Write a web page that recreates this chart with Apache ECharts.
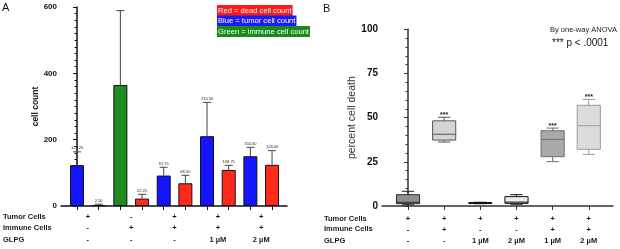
<!DOCTYPE html>
<html>
<head>
<meta charset="utf-8">
<script src="https://cdn.jsdelivr.net/npm/echarts@6/dist/echarts.min.js"></script>
<style>
  html, body { margin: 0; padding: 0; background: #fff; }
  #chart { width: 620px; height: 249px; }
</style>
</head>
<body>
<div id="chart"></div>
<script>
// ---- panel A: cell counts (mean + sd) ----
const barTypes = ['tumor', 'dead', 'immune', 'dead', 'tumor', 'dead', 'tumor', 'dead', 'tumor', 'dead'];
const barMeans = [123.25, 2.5, 365, 22.25, 91.75, 68.5, 210.5, 108.75, 150, 124];
const barSd = [40, 3, 224, 13, 25, 24, 102, 14, 27, 43];
const barLabels = ['123.25', '2.50', '', '22.25', '91.75', '68.50', '210.50', '108.75', '150.00', '124.00'];
const tumorA = ['+', '-', '+', '+', '+'];
const immuneA = ['-', '+', '+', '+', '+'];
const glpgA = ['-', '-', '-', '1 µM', '2 µM'];
const ticksA = [0, 200, 400, 600];

// ---- panel B: percent cell death (box plots) ----
const boxMin = [0.7, 36.2, 1.3, 1.0, 25.1, 29.2];
const boxQ1 = [1.3, 37.3, 1.5, 1.5, 27.9, 32.1];
const boxMed = [2.1, 40.6, 1.7, 2.2, 37.7, 45.4];
const boxQ3 = [6.4, 48.2, 1.9, 5.3, 42.6, 57.0];
const boxMax = [8.3, 50.2, 2.1, 6.4, 44.1, 60.3];
const boxSig = ['', '***', '', '', '***', '***'];
const tumorB = ['+', '+', '+', '+', '+', '+'];
const immuneB = ['-', '+', '-', '-', '+', '+'];
const glpgB = ['-', '-', '1 µM', '2 µM', '1 µM', '2 µM'];

const FONT = "'Liberation Sans', Arial, sans-serif";
const typeColors = { tumor: '#1414ff', dead: '#ff2a1a', immune: '#1e8c1e' };
const boxFills = ['#8f8f8f', '#d4d4d4', '#555555', '#ececec', '#a9a9a9', '#dcdcdc'];
const boxStrokes = ['#2a2a2a', '#555555', '#111111', '#111111', '#6e6e6e', '#9a9a9a'];

const chart = echarts.init(document.getElementById('chart'));

const tableLabel = (margin, lineHeight) => ({
  margin,
  lineHeight,
  fontSize: 7.5,
  fontWeight: 'bold',
  fontFamily: FONT,
  color: '#1a1a1a',
});

const rowHeader = (x, y, text) => ({
  type: 'text',
  x,
  y,
  style: { text, fontSize: 7.5, fontWeight: 'bold', fontFamily: FONT, fill: '#1a1a1a', verticalAlign: 'middle' },
});

const legendBox = (y, text, color) => ({
  type: 'text',
  x: 217,
  y,
  style: {
    text, fontSize: 7.6, fontFamily: FONT, fill: '#fff',
    backgroundColor: color, padding: [1.5, 1, 1.5, 1],
  },
});

const option = {
  animation: false,
  textStyle: { fontFamily: FONT },
  grid: [
    { left: 61, top: 7, width: 226, height: 199 },
    { left: 382, top: 29.3, width: 231, height: 176.7 },
  ],
  xAxis: [
    {
      gridIndex: 0,
      type: 'value',
      min: -0.74,
      max: 9.69,
      splitLine: { show: false },
      axisLine: { lineStyle: { color: '#111', width: 1.5 } },
      axisTick: { customValues: barMeans.map((v, i) => i), length: 4, lineStyle: { color: '#111' } },
      axisLabel: {
        ...tableLabel(4.75, 11.5),
        customValues: tumorA.map((v, k) => k * 2 + 0.5),
        formatter: (v) => {
          const k = Math.round((v - 0.5) / 2);
          return [tumorA[k], immuneA[k], glpgA[k]].join('\n');
        },
      },
    },
    {
      gridIndex: 1,
      type: 'value',
      min: -0.72,
      max: 5.67,
      splitLine: { show: false },
      axisLine: { lineStyle: { color: '#333', width: 1.5 } },
      axisTick: { customValues: boxMed.map((v, i) => i), length: 4, lineStyle: { color: '#333' } },
      axisLabel: {
        ...tableLabel(7.2, 11),
        customValues: boxMed.map((v, i) => i),
        formatter: (v) => {
          const k = Math.round(v);
          return [tumorB[k], immuneB[k], glpgB[k]].join('\n');
        },
      },
    },
  ],
  yAxis: [
    {
      gridIndex: 0,
      type: 'value',
      min: ticksA[0],
      max: ticksA[ticksA.length - 1],
      interval: 200,
      splitLine: { show: false },
      axisLine: { show: true, lineStyle: { color: '#111', width: 1.5 } },
      axisTick: { length: 4, lineStyle: { color: '#111' } },
      minorTick: { show: true, splitNumber: 10, length: 2.5, lineStyle: { color: '#111' } },
      axisLabel: { fontSize: 8, fontWeight: 'bold', color: '#111', margin: 4 },
      name: 'cell count',
      nameLocation: 'middle',
      nameGap: 19,
      nameTextStyle: { fontSize: 8.5, fontWeight: 'bold', color: '#111' },
    },
    {
      gridIndex: 1,
      type: 'value',
      min: 0,
      max: 100,
      interval: 25,
      splitLine: { show: false },
      axisLine: { show: true, lineStyle: { color: '#333', width: 1.5 } },
      axisTick: { length: 4, lineStyle: { color: '#333' } },
      minorTick: { show: true, splitNumber: 5, length: 2.5, lineStyle: { color: '#333' } },
      axisLabel: { fontSize: 10, fontWeight: 'bold', color: '#111', margin: 4 },
      name: 'percent cell death',
      nameLocation: 'middle',
      nameGap: 20,
      nameTextStyle: { fontSize: 10.5, color: '#333' },
    },
  ],
  series: [
    {
      type: 'bar',
      xAxisIndex: 0,
      yAxisIndex: 0,
      barWidth: 14,
      data: barMeans.map((v, i) => ({
        value: [i, v],
        itemStyle: { color: typeColors[barTypes[i]] },
      })),
      itemStyle: { borderColor: '#111', borderWidth: 1 },
    },
    {
      // error bars with value labels
      type: 'custom',
      xAxisIndex: 0,
      yAxisIndex: 0,
      z: 3,
      data: barMeans.map((v, i) => [i, v, v + barSd[i]]),
      renderItem: (params, api) => {
        const x = api.value(0);
        const lo = api.coord([x, api.value(1)]);
        const hi = api.coord([x, api.value(2)]);
        const label = barLabels[params.dataIndex];
        const stroke = { stroke: '#444', lineWidth: 1 };
        const children = [
          { type: 'line', shape: { x1: lo[0], y1: lo[1], x2: hi[0], y2: hi[1] }, style: stroke },
          { type: 'line', shape: { x1: hi[0] - 4, y1: hi[1], x2: hi[0] + 4, y2: hi[1] }, style: stroke },
        ];
        if (label) {
          children.push({
            type: 'text', x: hi[0], y: hi[1] - 1.5,
            style: { text: label, fontSize: 4, fontFamily: FONT, fill: '#222', align: 'center', verticalAlign: 'bottom' },
          });
        }
        return { type: 'group', children };
      },
    },
    {
      // box plots
      type: 'custom',
      xAxisIndex: 1,
      yAxisIndex: 1,
      data: boxMed.map((v, i) => [i, boxMin[i], boxQ1[i], v, boxQ3[i], boxMax[i]]),
      renderItem: (params, api) => {
        const i = params.dataIndex;
        const x = api.value(0);
        const half = api.size([0.64, 0])[0] / 2;
        const cap = api.size([0.34, 0])[0] / 2;
        const pMin = api.coord([x, api.value(1)]);
        const pQ1 = api.coord([x, api.value(2)]);
        const pMed = api.coord([x, api.value(3)]);
        const pQ3 = api.coord([x, api.value(4)]);
        const pMax = api.coord([x, api.value(5)]);
        const stroke = { stroke: boxStrokes[i], lineWidth: 1 };
        const cx = pMed[0];
        const children = [
          { type: 'line', shape: { x1: cx, y1: pQ3[1], x2: cx, y2: pMax[1] }, style: stroke },
          { type: 'line', shape: { x1: cx, y1: pQ1[1], x2: cx, y2: pMin[1] }, style: stroke },
          { type: 'line', shape: { x1: cx - cap, y1: pMax[1], x2: cx + cap, y2: pMax[1] }, style: stroke },
          { type: 'line', shape: { x1: cx - cap, y1: pMin[1], x2: cx + cap, y2: pMin[1] }, style: stroke },
          {
            type: 'rect',
            shape: { x: cx - half, y: pQ3[1], width: half * 2, height: pQ1[1] - pQ3[1] },
            style: { fill: boxFills[i], stroke: boxStrokes[i], lineWidth: 1 },
          },
          { type: 'line', shape: { x1: cx - half, y1: pMed[1], x2: cx + half, y2: pMed[1] }, style: stroke },
        ];
        if (boxSig[i]) {
          children.push({
            type: 'text', x: cx, y: pMax[1] + 1,
            style: { text: boxSig[i], fontSize: 7, fontWeight: 'bold', fontFamily: FONT, fill: '#222', align: 'center', verticalAlign: 'bottom' },
          });
        }
        return { type: 'group', children };
      },
    },
  ],
  graphic: [
    { type: 'text', x: 2, y: 2, style: { text: 'A', fontSize: 11, fontFamily: FONT, fill: '#111' } },
    { type: 'text', x: 323, y: 3, style: { text: 'B', fontSize: 11, fontFamily: FONT, fill: '#111' } },
    legendBox(5, 'Red = dead cell count', '#ff1a1a'),
    legendBox(15.5, 'Blue = tumor cell count', '#1a1aff'),
    legendBox(26, 'Green = immune cell count', '#1a8a1a'),
    { type: 'text', x: 550, y: 30, style: { text: 'By one-way ANOVA', fontSize: 7.5, fontFamily: FONT, fill: '#222', verticalAlign: 'middle' } },
    { type: 'text', x: 552, y: 43, style: { text: '*** p < .0001', fontSize: 10, fontFamily: FONT, fill: '#111', verticalAlign: 'middle' } },
    rowHeader(3, 216.5, 'Tumor Cells'),
    rowHeader(3, 228, 'Immune Cells'),
    rowHeader(3, 239.5, 'GLPG'),
    rowHeader(324, 218.7, 'Tumor Cells'),
    rowHeader(324, 229.3, 'Immune Cells'),
    rowHeader(324, 240.7, 'GLPG'),
  ],
};

chart.setOption(option);
</script>
</body>
</html>
